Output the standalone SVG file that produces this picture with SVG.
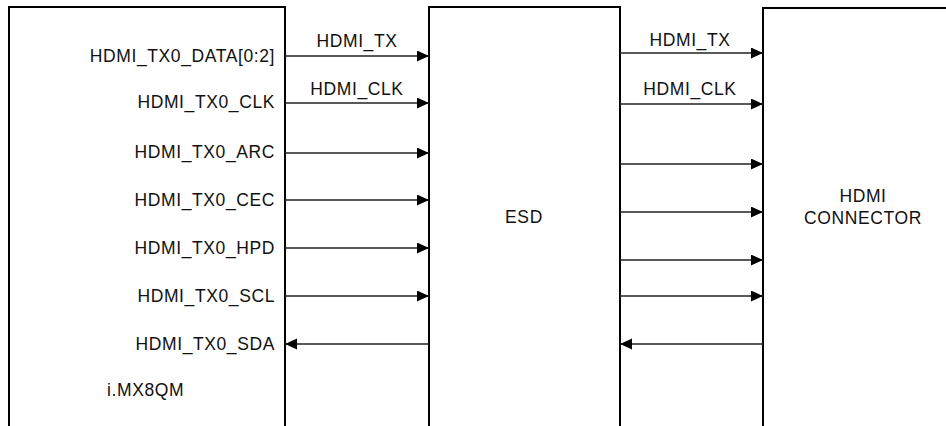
<svg xmlns="http://www.w3.org/2000/svg" width="946" height="426" viewBox="0 0 946 426">
<style>
.box{fill:#fff;stroke:#000;stroke-width:2}
.t{font-family:"Liberation Sans",Arial,sans-serif;font-size:17.5px;letter-spacing:0.6px;fill:#111}
.e{text-anchor:end}
.m{text-anchor:middle}
.c{stroke:#222;stroke-width:1.5;fill:none;marker-end:url(#ah)}
</style>
<defs>
<marker id="ah" markerUnits="userSpaceOnUse" markerWidth="13" markerHeight="12" refX="12" refY="5.5" orient="auto">
<path d="M0,0 L12,5.5 L0,11 Z" fill="#000"/>
</marker>
</defs>
<g id="imx8qm">
<rect class="box" x="9" y="7" width="276" height="440"/>
<text class="t e" x="275" y="62">HDMI_TX0_DATA[0:2]</text>
<text class="t e" x="275" y="108">HDMI_TX0_CLK</text>
<text class="t e" x="275" y="158">HDMI_TX0_ARC</text>
<text class="t e" x="275" y="206">HDMI_TX0_CEC</text>
<text class="t e" x="275" y="254">HDMI_TX0_HPD</text>
<text class="t e" x="275" y="302">HDMI_TX0_SCL</text>
<text class="t e" x="275" y="350">HDMI_TX0_SDA</text>
<text class="t" x="107" y="396">i.MX8QM</text>
</g>
<g id="esd">
<rect class="box" x="429" y="7" width="191" height="440"/>
<text class="t m" x="524" y="223">ESD</text>
</g>
<g id="hdmi-connector">
<rect class="box" x="763" y="8" width="200" height="440"/>
<text class="t m" x="863" y="202">HDMI</text>
<text class="t m" x="863" y="224">CONNECTOR</text>
</g>
<g id="connectors">
<path class="c" d="M285,56 H429"/>
<path class="c" d="M285,103 H429"/>
<path class="c" d="M285,153 H429"/>
<path class="c" d="M285,200 H429"/>
<path class="c" d="M285,248 H429"/>
<path class="c" d="M285,296 H429"/>
<path class="c" d="M429,344 H285"/>
<path class="c" d="M620,53 H763"/>
<path class="c" d="M620,104 H763"/>
<path class="c" d="M620,164 H763"/>
<path class="c" d="M620,212 H763"/>
<path class="c" d="M620,260 H763"/>
<path class="c" d="M620,296 H763"/>
<path class="c" d="M763,344 H620"/>
<text class="t m" x="357" y="47">HDMI_TX</text>
<text class="t m" x="357" y="95">HDMI_CLK</text>
<text class="t m" x="690" y="46">HDMI_TX</text>
<text class="t m" x="690" y="95">HDMI_CLK</text>
</g>
</svg>
